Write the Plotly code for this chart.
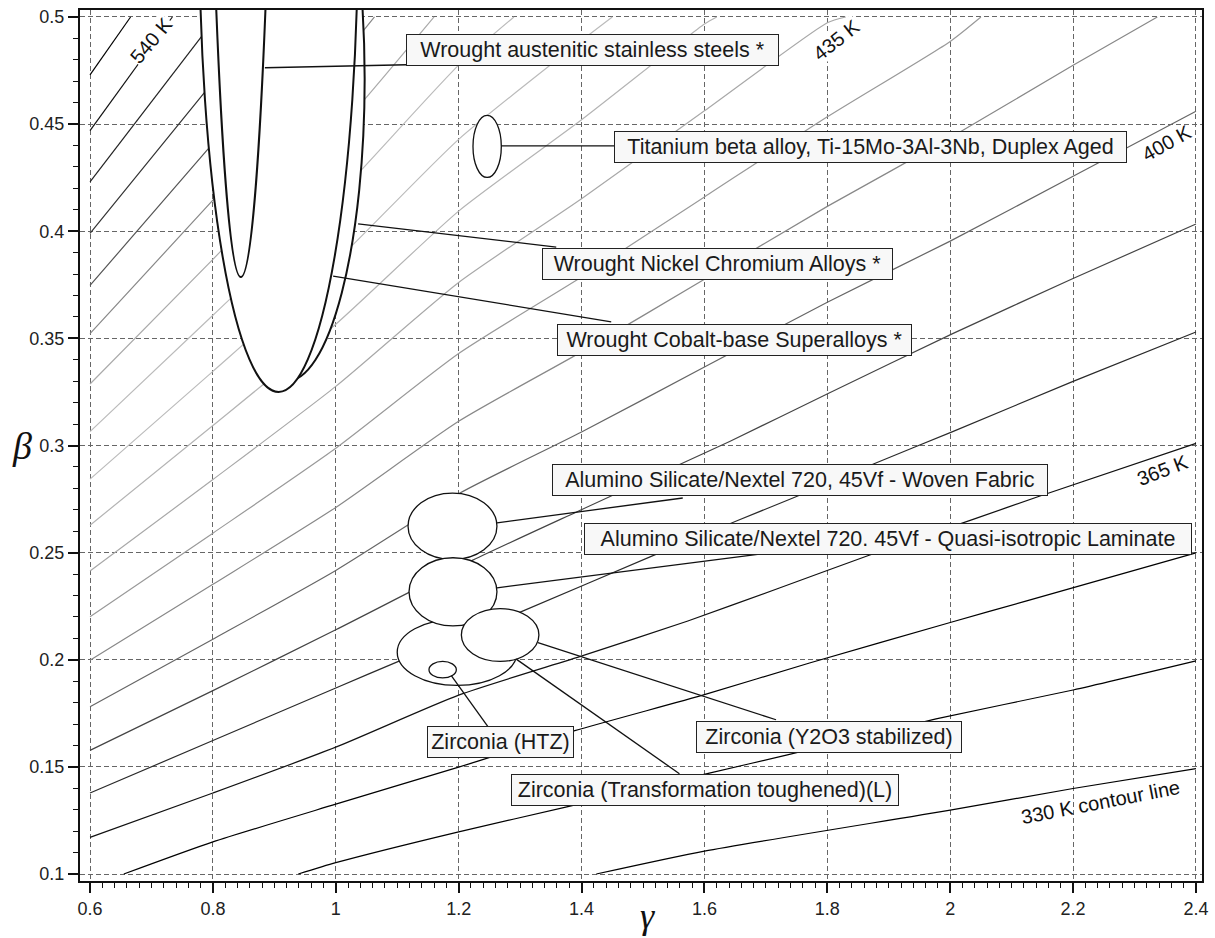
import plotly.graph_objects as go

# ---------------- data ----------------
# contour levels (K); step 35/3 K, labelled every third line
levels = [330, 341.7, 353.3, 365, 376.7, 388.3, 400, 411.7, 423.3, 435,
          446.7, 458.3, 470, 481.7, 493.3, 505, 516.7, 528.3, 540, 551.7]

contour_gamma = [
    [1.424, 1.6, 2.0, 2.2, 2.4],
    [0.939, 1.0, 1.2, 1.376, 1.608, 1.735, 1.977, 2.2, 2.4],
    [0.655, 0.8, 1.0, 1.2, 1.389, 1.6, 1.771, 2.0, 2.123, 2.4],
    [0.6, 0.8, 1.0, 1.2, 1.402, 1.573, 1.722, 1.868, 2.036, 2.145, 2.4],
    [0.6, 0.8, 1.0, 1.104, 1.305, 1.521, 1.654, 1.744, 1.879, 2.004, 2.199, 2.4],
    [0.6, 0.8, 1.0, 1.223, 1.397, 1.641, 1.803, 2.004, 2.199, 2.4],
    [0.6, 0.8, 1.0, 1.2, 1.4, 1.6, 1.8, 2.0, 2.2, 2.4],
    [0.6, 0.8, 1.0, 1.2, 1.4, 1.6, 1.8, 2.0, 2.2, 2.337],
    [0.6, 0.8, 1.0, 1.2, 1.4, 1.6, 1.8, 2.0, 2.05],
    [0.6, 0.8, 1.0, 1.2, 1.4, 1.6, 1.8, 1.83],
    [0.6, 0.8, 1.0, 1.2, 1.4, 1.6, 1.62],
    [0.6, 0.8, 1.0, 1.2, 1.4, 1.45],
    [0.6, 0.8, 1.0, 1.2, 1.29],
    [0.6, 0.8, 1.0, 1.16],
    [0.6, 0.8, 1.0, 1.063],
    [0.6, 0.8, 0.975],
    [0.6, 0.8, 0.885],
    [0.6, 0.806],
    [0.6, 0.734],
    [0.6, 0.666],
]
contour_beta = [
    [0.1, 0.1107, 0.1298, 0.1399, 0.1492],
    [0.1, 0.1053, 0.1197, 0.1313, 0.1471, 0.1556, 0.1724, 0.1859, 0.1995],
    [0.1, 0.115, 0.1326, 0.1499, 0.1669, 0.1837, 0.1985, 0.2174, 0.2274, 0.2499],
    [0.1171, 0.1378, 0.1592, 0.1835, 0.2019, 0.2181, 0.2335, 0.2488, 0.2654, 0.2763, 0.301],
    [0.1378, 0.1623, 0.1868, 0.1995, 0.2228, 0.2492, 0.2650, 0.2755, 0.2918, 0.3065, 0.3298, 0.353],
    [0.1577, 0.1856, 0.214, 0.2465, 0.2697, 0.3019, 0.3245, 0.3522, 0.3778, 0.4034],
    [0.1781, 0.2096, 0.2417, 0.2775, 0.3063, 0.3366, 0.3669, 0.3954, 0.4257, 0.456],
    [0.1998, 0.2352, 0.2711, 0.3113, 0.3437, 0.3776, 0.4116, 0.4436, 0.4775, 0.5],
    [0.2201, 0.2591, 0.2987, 0.3429, 0.3786, 0.416, 0.4534, 0.4886, 0.5],
    [0.2414, 0.2841, 0.3276, 0.3761, 0.4152, 0.4562, 0.4973, 0.5],
    [0.2628, 0.3093, 0.3566, 0.4094, 0.452, 0.4967, 0.5],
    [0.2843, 0.3346, 0.3858, 0.4429, 0.489, 0.5],
    [0.3065, 0.3608, 0.4159, 0.4775, 0.5],
    [0.3287, 0.3869, 0.446, 0.5],
    [0.3522, 0.4145, 0.4779, 0.5],
    [0.3747, 0.441, 0.5],
    [0.399, 0.4696, 0.5],
    [0.423, 0.5],
    [0.447, 0.5],
    [0.473, 0.5],
]
line_colors = ["#000000", "#000000", "#000000", "#111111", "#2a2a2a", "#444444",
               "#666666", "#888888", "#999999", "#a8a8a8", "#b4b4b4", "#bbbbbb",
               "#bbbbbb", "#aaaaaa", "#888888", "#555555", "#333333", "#222222",
               "#111111", "#000000"]

# contour labels
label_text = ["540 K", "435 K", "400 K", "365 K", "330 K contour line"]
label_gamma = [0.7003, 1.8146, 2.352, 2.3463, 2.245]
label_beta = [0.4891, 0.4893, 0.4414, 0.2888, 0.1335]
label_angle = [-50, -38, -29, -21, -11]
label_bg = ["white", "white", "rgba(0,0,0,0)", "rgba(0,0,0,0)", "rgba(0,0,0,0)"]

# material property ellipses (bounding ranges in gamma / beta)
materials = ["Wrought Nickel Chromium Alloys *",
             "Wrought Cobalt-base Superalloys *",
             "Wrought austenitic stainless steels *",
             "Titanium beta alloy, Ti-15Mo-3Al-3Nb, Duplex Aged",
             "Zirconia (Transformation toughened)(L)",
             "Alumino Silicate/Nextel 720, 45Vf - Woven Fabric",
             "Alumino Silicate/Nextel 720. 45Vf - Quasi-isotropic Laminate",
             "Zirconia (Y2O3 stabilized)",
             "Zirconia (HTZ)"]
gamma_lo = [0.793, 0.778, 0.780, 1.2233, 1.100, 1.1176, 1.1192, 1.2044, 1.1517]
gamma_hi = [1.047, 1.036, 0.911, 1.2694, 1.295, 1.2623, 1.2623, 1.3306, 1.1962]
beta_lo = [0.330, 0.325, 0.3786, 0.4251, 0.188, 0.2468, 0.2158, 0.1992, 0.1915]
beta_hi = [0.612, 0.757, 1.5786, 0.4541, 0.219, 0.2778, 0.2476, 0.2239, 0.1992]

# leader lines: from ellipse to label box
leader_g0 = [1.0363, 0.9957, 0.8846, 1.2694, 1.2937, 1.2623, 1.2623, 1.329, 1.188]
leader_b0 = [0.4034, 0.3791, 0.4763, 0.4398, 0.2003, 0.2639, 0.2336, 0.208, 0.1926]
leader_g1 = [1.3588, 1.4483, 1.1154, 1.4537, 1.5593, 1.5647, 1.6866, 1.7165, 1.2476]
leader_b1 = [0.3926, 0.3577, 0.4777, 0.4398, 0.1468, 0.2755, 0.2492, 0.172, 0.1688]

# label box centres
box_g = [1.6208, 1.6491, 1.4184, 1.871, 1.6008, 1.7553, 1.8989, 1.8024, 1.2688]
box_b = [0.3847, 0.3494, 0.4844, 0.4391, 0.1391, 0.2838, 0.2565, 0.1640, 0.1615]

x_ticks = [0.6, 0.8, 1.0, 1.2, 1.4, 1.6, 1.8, 2.0, 2.2, 2.4]
x_ticktext = ["0.6", "0.8", "1", "1.2", "1.4", "1.6", "1.8", "2", "2.2", "2.4"]
y_ticks = [0.1, 0.15, 0.2, 0.25, 0.3, 0.35, 0.4, 0.45, 0.5]
y_ticktext = ["0.1", "0.15", "0.2", "0.25", "0.3", "0.35", "0.4", "0.45", "0.5"]

# ---------------- styles ----------------
box_px_width = [351, 355, 373, 513, 388, 496, 608, 266, 147]
ell_width = [2, 2, 2, 1.3, 1.3, 1.3, 1.3, 1.3, 1.3]
FONT = "Liberation Sans, Arial, sans-serif"
SERIF = "Liberation Serif, Times New Roman, serif"

fig = go.Figure()

for g, b, c in zip(contour_gamma, contour_beta, line_colors):
    fig.add_trace(go.Scatter(x=g, y=b, mode="lines",
                             line=dict(color=c, width=1.2, shape="spline", smoothing=0.6),
                             hoverinfo="skip", showlegend=False))

shapes = []
for i in range(len(materials)):
    shapes.append(dict(type="circle", xref="x", yref="y",
                       x0=gamma_lo[i], x1=gamma_hi[i], y0=beta_lo[i], y1=beta_hi[i],
                       fillcolor="white", line=dict(color="#111111", width=ell_width[i]),
                       layer="above"))
for i in range(len(materials)):
    shapes.append(dict(type="line", xref="x", yref="y",
                       x0=leader_g0[i], y0=leader_b0[i], x1=leader_g1[i], y1=leader_b1[i],
                       line=dict(color="#111111", width=1.3), layer="above"))

annotations = []
for i in range(len(materials)):
    annotations.append(dict(x=box_g[i], y=box_b[i], xref="x", yref="y",
                            text=materials[i], showarrow=False,
                            font=dict(family=FONT, size=21.5, color="#1a1a1a"),
                            bgcolor="#f8f8f8", bordercolor="#222222", borderwidth=1,
                            borderpad=1, width=box_px_width[i] - 4, height=28,
                            xanchor="center", yanchor="middle"))
for t, g, b, a, bg in zip(label_text, label_gamma, label_beta, label_angle, label_bg):
    annotations.append(dict(x=g, y=b, xref="x", yref="y", text=t, showarrow=False,
                            textangle=a, bgcolor=bg, borderpad=0,
                            font=dict(family=FONT, size=20, color="#111111"),
                            xanchor="center", yanchor="middle"))
annotations.append(dict(x=0.5058, y=-0.0149, xref="paper", yref="paper", text="<i>γ</i>",
                        showarrow=False, font=dict(family=SERIF, size=36, color="#111111"),
                        xanchor="center", yanchor="top"))
annotations.append(dict(x=-0.0516, y=0.4989, xref="paper", yref="paper", text="<i>β</i>",
                        showarrow=False, font=dict(family=SERIF, size=38, color="#111111"),
                        xanchor="center", yanchor="middle"))

axis_common = dict(showline=True, linecolor="#111111", linewidth=2, mirror=True,
                   ticks="outside", ticklen=10, tickwidth=1.5, tickcolor="#111111",
                   showgrid=True, gridcolor="#666666", gridwidth=1, griddash="5px,3px",
                   zeroline=False, tickfont=dict(family=FONT, size=18, color="#222222"))

fig.update_xaxes(range=[0.5837, 2.4098], tickmode="array", tickvals=x_ticks,
                 ticktext=x_ticktext,
                 minor=dict(dtick=0.02, tick0=0.6, ticks="outside", ticklen=5,
                            tickcolor="#111111", tickwidth=1, showgrid=False),
                 **axis_common)
fig.update_yaxes(range=[0.09674, 0.50326], tickmode="array", tickvals=y_ticks,
                 ticktext=y_ticktext,
                 minor=dict(dtick=0.01, tick0=0.1, ticks="outside", ticklen=5,
                            tickcolor="#111111", tickwidth=1, showgrid=False),
                 **axis_common)

fig.update_layout(width=1215, height=938, margin=dict(l=80, r=12, t=7, b=57),
                  plot_bgcolor="white", paper_bgcolor="white",
                  shapes=shapes, annotations=annotations, showlegend=False)

fig.write_html("out.html")
